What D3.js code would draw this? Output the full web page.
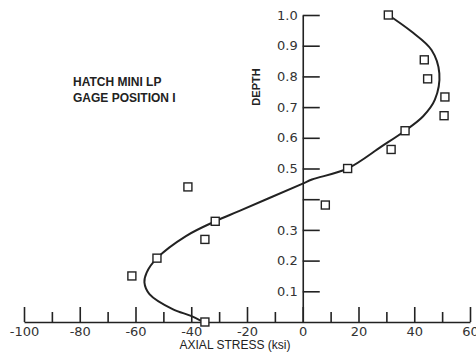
<!DOCTYPE html>
<html>
<head>
<meta charset="utf-8">
<script src="https://cdn.jsdelivr.net/npm/d3@7"></script>
<style>
  body { margin: 0; background: #fff; }
  svg { display: block; font-family: "Liberation Sans", Arial, sans-serif; }
  .axis path, .axis line { stroke: #222; stroke-width: 1.6; }
  .axis text { font-family: "DejaVu Sans", sans-serif; font-size: 13px; fill: #333; }
</style>
</head>
<body>
<svg width="476" height="360"></svg>
<script>
// measured gage points: axial stress (ksi) vs depth
const stress = [30.7, 43.6, 44.8, 51, 50.7, 36.7, 31.7, 16.1, 8.1, -41.2, -31.4, -35.1, -52.3, -61.3, -35.1];
const depth  = [1.0, 0.854, 0.792, 0.733, 0.672, 0.623, 0.562, 0.5, 0.381, 0.44, 0.328, 0.269, 0.208, 0.150, 0.0];

// fitted curve through the points
const curveStress = [30.7, 39, 46.2, 49, 47.4, 43.2, 36.7, 28.3, 16.1, 3.3, 0, -22.9, -31.4, -41.9, -52.3, -56, -56.8, -55, -46.7, -40.1, -36.5];
const curveDepth  = [1.0, 0.946, 0.886, 0.81, 0.724, 0.67, 0.623, 0.572, 0.5, 0.464, 0.451, 0.361, 0.328, 0.28, 0.208, 0.161, 0.129, 0.091, 0.042, 0.02, 0.004];

const majorTicks = [-100, -80, -60, -40, -20, 0, 20, 40, 60];
const minorTicks = [-90, -70, -50, -30, -10, 10, 30, 50];
const depthTicks = [0.1, 0.2, 0.3, 0.4, 0.5, 0.6, 0.7, 0.8, 0.9, 1.0];
const depthLabels = ['0.1', '0.2', '0.3', '', '0.5', '0.6', '0.7', '0.8', '0.9', '1.0'];

const svg = d3.select('svg');

const x = d3.scaleLinear().domain([-100, 60]).range([24, 470]);
const y = d3.scaleLinear().domain([0, 1]).range([322, 15]);

// x axis, ticks pointing up
svg.append('g')
  .attr('class', 'axis')
  .attr('transform', `translate(0,${y(0)})`)
  .call(d3.axisBottom(x).tickValues(majorTicks).tickSizeInner(-15).tickSizeOuter(0).tickPadding(5)
    .tickFormat(d => d < 0 ? '-' + Math.abs(d) : String(d)));

svg.append('g')
  .attr('class', 'axis')
  .attr('transform', `translate(0,${y(0)})`)
  .call(d3.axisBottom(x).tickValues(minorTicks).tickSizeInner(-10).tickSizeOuter(0).tickFormat(''))
  .call(g => g.select('.domain').remove());

// y axis at zero stress, ticks pointing right, labels left
svg.append('g')
  .attr('class', 'axis')
  .attr('transform', `translate(${x(0)},0)`)
  .call(d3.axisLeft(y).tickValues(depthTicks).tickSizeInner(-17).tickSizeOuter(0).tickPadding(5)
    .tickFormat((d, i) => depthLabels[i]));

// fitted curve
const line = d3.line()
  .x(i => x(curveStress[i]))
  .y(i => y(curveDepth[i]))
  .curve(d3.curveCatmullRom.alpha(0.5));

svg.append('path')
  .datum(d3.range(curveStress.length))
  .attr('d', line)
  .attr('fill', 'none')
  .attr('stroke', '#222')
  .attr('stroke-width', 2);

// square markers
svg.append('g')
  .selectAll('rect')
  .data(d3.range(stress.length))
  .join('rect')
  .attr('x', i => x(stress[i]) - 4)
  .attr('y', i => y(depth[i]) - 4)
  .attr('width', 8)
  .attr('height', 8)
  .attr('fill', '#fff')
  .attr('stroke', '#222')
  .attr('stroke-width', 1.4);

// labels
svg.append('text')
  .attr('x', 235).attr('y', 349)
  .attr('text-anchor', 'middle')
  .style('font-size', '12px').attr('fill', '#222')
  .text('AXIAL STRESS (ksi)');

svg.append('text')
  .attr('transform', 'translate(260,87) rotate(-90)')
  .attr('text-anchor', 'middle')
  .style('font-size', '11px').style('font-weight', 'bold').attr('fill', '#222')
  .text('DEPTH');

svg.append('text')
  .attr('x', 73).attr('y', 86)
  .style('font-size', '12px').style('font-weight', 'bold').attr('fill', '#222')
  .text('HATCH MINI LP');

svg.append('text')
  .attr('x', 73).attr('y', 102)
  .style('font-size', '12px').style('font-weight', 'bold').attr('fill', '#222')
  .text('GAGE POSITION I');
</script>
</body>
</html>
